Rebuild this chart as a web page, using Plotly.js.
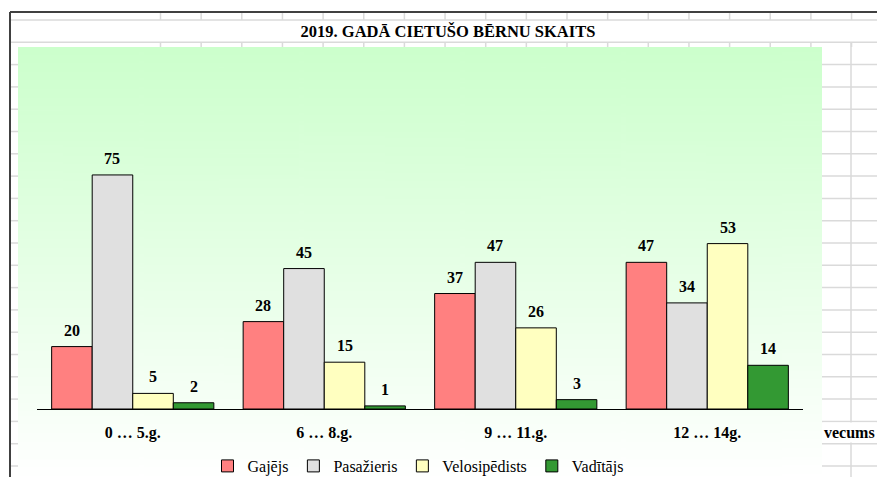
<!DOCTYPE html>
<html>
<head>
<meta charset="utf-8">
<script src="https://cdn.plot.ly/plotly-3.0.1.min.js"></script>
<style>html,body{margin:0;padding:0;background:#fff;}#chart{width:877px;height:477px;}</style>
</head>
<body>
<div id="chart"></div>
<script>
// ---- data ----
const categories = ['0 … 5.g.', '6 … 8.g.', '9 … 11.g.', '12 … 14g.'];
const seriesNames = ['Gajējs', 'Pasažieris', 'Velosipēdists', 'Vadītājs'];
const gajejs = [20, 28, 37, 47];
const pasazieris = [75, 45, 47, 34];
const velosipedists = [5, 15, 26, 53];
const vaditajs = [2, 1, 3, 14];
const titleText = '2019. GADĀ CIETUŠO BĒRNU SKAITS';
const axisTitleText = 'vecums';

// ---- styling / geometry ----
const W = 877, H = 477;
const M = {l: 37, r: 74, t: 47, b: 68, autoexpand: false};
const plotW = W - M.l - M.r, plotH = H - M.t - M.b;
const bargap = 0.153;
const yMax = 116;
const colors = ['#FF8080', '#E0E0E0', '#FFFFC0', '#339933'];
const FONT = 'Liberation Serif';

const px2x = p => (p - M.l) / plotW;
const px2y = p => (H - M.b - p) / plotH;

const allSeries = [gajejs, pasazieris, velosipedists, vaditajs];
const traces = allSeries.map((vals, i) => ({
  type: 'bar',
  name: seriesNames[i],
  x: categories,
  y: vals,
  marker: {color: colors[i], line: {color: '#000', width: 1}},
  hoverinfo: 'none'
}));

// data labels via annotations (positioned through axes)
const barPx = plotW / categories.length * (1 - bargap) / allSeries.length;
const annotations = [];
allSeries.forEach((vals, i) => {
  vals.forEach((v, j) => {
    annotations.push({
      x: categories[j], y: v, xref: 'x', yref: 'y',
      text: String(v), showarrow: false,
      xshift: (i - (allSeries.length - 1) / 2) * barPx,
      yshift: 6, yanchor: 'bottom', xanchor: 'center',
      font: {family: FONT, size: 16, weight: 'bold', color: '#000'}
    });
  });
});
annotations.push({
  xref: 'paper', yref: 'paper', x: px2x(822), y: px2y(432.5),
  xanchor: 'left', yanchor: 'middle', showarrow: false,
  text: axisTitleText, bgcolor: '#fff',
  font: {family: FONT, size: 16, weight: 'bold', color: '#000'}
});

// spreadsheet gridlines behind the (transparent) chart area
const shapes = [];
const gridColor = '#dadada';
const line = (x0, y0, x1, y1, color, width) => shapes.push({
  type: 'line', xref: 'paper', yref: 'paper', layer: 'below',
  x0: px2x(x0), x1: px2x(x1), y0: px2y(y0), y1: px2y(y1),
  line: {color: color, width: width}
});
const rows = [];
for (let y = 20; y < H; y += 22.3) rows.push(y);
const cols = [];
for (let x = 160.5; x < W; x += 40.65) cols.push(x);
cols.forEach(x => { line(x, 12, x, 20, gridColor, 1.5); line(x, 42.3, x, 47, gridColor, 1.5); });
line(10, rows[0], W, rows[0], gridColor, 1.5);
line(10, rows[1], W, rows[1], gridColor, 1.5);
rows.slice(2).forEach(y => { line(10, y, 18, y, gridColor, 1.5); line(822, y, W, y, gridColor, 1.5); });
line(851, 42.3, 851, H, gridColor, 1.5);
// chart border (top + left)
line(10, 12, W, 12, '#404040', 2);
line(10, 12, 10, H, '#404040', 2);

// gradient plot-area image
const cv = document.createElement('canvas');
cv.width = 10; cv.height = 200;
const ctx = cv.getContext('2d');
const g = ctx.createLinearGradient(0, 0, 0, 200);
g.addColorStop(0, '#CCFFCC');
g.addColorStop(1, '#FFFFFF');
ctx.fillStyle = g; ctx.fillRect(0, 0, 10, 200);
const images = [{
  source: cv.toDataURL('image/png'),
  xref: 'paper', yref: 'paper',
  x: px2x(18), y: px2y(47),
  sizex: (822 - 18) / plotW, sizey: (H - 47) / plotH,
  sizing: 'stretch', xanchor: 'left', yanchor: 'top', layer: 'below'
}];

const layout = {
  width: W, height: H,
  margin: M,
  paper_bgcolor: '#ffffff',
  plot_bgcolor: 'rgba(0,0,0,0)',
  barmode: 'group', bargap: bargap, bargroupgap: 0,
  title: {
    text: titleText, xref: 'container', yref: 'container',
    x: 448 / W, xanchor: 'center', y: 1 - 31 / H, yanchor: 'middle',
    font: {family: FONT, size: 16.5, weight: 'bold', color: '#000'}
  },
  xaxis: {
    type: 'category', showline: true, linecolor: '#000', linewidth: 1,
    ticks: '', showgrid: false, zeroline: false, ticklabelstandoff: 9,
    tickfont: {family: FONT, size: 16, weight: 'bold', color: '#000'},
    fixedrange: true, automargin: false
  },
  yaxis: {range: [0, yMax], visible: false, fixedrange: true, automargin: false},
  showlegend: true,
  legend: {
    orientation: 'h', x: px2x(418), xanchor: 'center', y: px2y(466), yanchor: 'middle',
    font: {family: FONT, size: 16, color: '#000'}, bgcolor: 'rgba(0,0,0,0)', traceorder: 'normal'
  },
  annotations: annotations,
  shapes: shapes,
  images: images
};

Plotly.newPlot('chart', traces, layout, {staticPlot: true, displayModeBar: false});
</script>
</body>
</html>
